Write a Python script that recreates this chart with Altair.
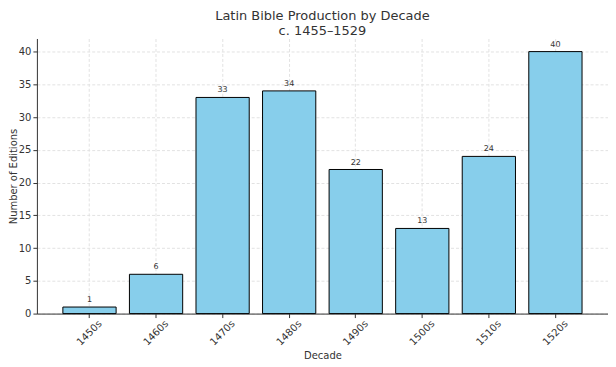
import altair as alt
import pandas as pd

decades = ["1450s", "1460s", "1470s", "1480s", "1490s", "1500s", "1510s", "1520s"]
editions = [1, 6, 33, 34, 22, 13, 24, 40]
y_ticks = [0, 5, 10, 15, 20, 25, 30, 35, 40]

df = pd.DataFrame({"Decade": decades, "Editions": editions})

FONT = "DejaVu Sans"

x = alt.X("Decade:N", sort=decades, title="Decade",
          scale=alt.Scale(paddingInner=0.2, paddingOuter=0.39),
          axis=alt.Axis(labelAngle=-45, labelAlign="center", labelBaseline="middle",
                        labelPadding=15, tickSize=4, tickColor="#333", domainColor="#333",
                        labelFontSize=10, labelColor="#333", titleFontSize=10,
                        titleColor="#333", titleFontWeight="normal", titlePadding=4,
                        grid=True, gridColor="#e2e2e2", gridDash=[3, 2],
                        labelFont=FONT, titleFont=FONT, bandPosition=0.5))
y = alt.Y("Editions:Q", title="Number of Editions",
          scale=alt.Scale(domain=[0, 42], nice=False),
          axis=alt.Axis(values=y_ticks, tickSize=4,
                        tickColor="#333", domainColor="#333", labelFontSize=10,
                        labelColor="#333", titleFontSize=10, titleColor="#333",
                        titleFontWeight="normal", titleX=-18, titleBaseline="bottom",
                        grid=True, gridColor="#e2e2e2", gridDash=[3, 2],
                        labelFont=FONT, titleFont=FONT, labelPadding=2))

base = alt.Chart(df).encode(x=x, y=y)
bars = base.mark_bar(color="#87CEEB", stroke="black", strokeWidth=1)
labels = base.mark_text(baseline="bottom", dy=-3, fontSize=8, color="#333",
                        font=FONT).encode(text="Editions:Q")

chart = (bars + labels).properties(
    width=573, height=276,
    autosize="none",
    padding={"left": 29, "top": 30, "right": 0, "bottom": 55},
    title=alt.TitleParams(["Latin Bible Production by Decade", "c. 1455–1529"],
                          fontSize=13, font=FONT, fontWeight="normal", color="#333",
                          lineHeight=15, offset=1, anchor="middle"),
).configure_view(stroke=None).configure_axis(domainWidth=1)

chart.save("out.html", embed_options={"renderer": "svg", "actions": False})
